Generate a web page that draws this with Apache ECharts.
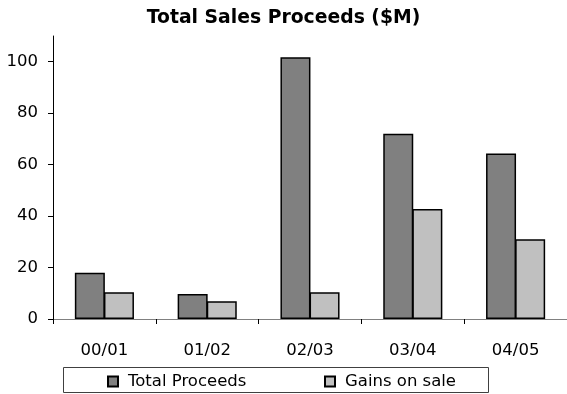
<!DOCTYPE html>
<html>
<head>
<meta charset="utf-8">
<style>
  html, body { margin: 0; padding: 0; background: #fff; }
  #chart { width: 567px; height: 394px; }
</style>
<script src="https://cdn.jsdelivr.net/npm/echarts@6/dist/echarts.min.js"></script>
</head>
<body>
<div id="chart"></div>
<script>
// Sales proceeds by financial year, $M
const years = ['00/01', '01/02', '02/03', '03/04', '04/05'];
const totalProceeds = [18, 9.7, 101.7, 72, 64.3];
const gainsOnSale = [10.4, 6.9, 10.4, 42.8, 31];
const yTicks = [0, 20, 40, 60, 80, 100];

const FONT = '"DejaVu Sans", Verdana, sans-serif';

const chart = echarts.init(document.getElementById('chart'), null, { renderer: 'canvas' });

const legendBase = {
  top: 368,
  icon: 'rect',
  itemWidth: 10,
  itemHeight: 10,
  textStyle: { fontFamily: FONT, fontSize: 16.5, color: '#000', padding: [0, 0, 0, 5] },
  selectedMode: false
};

chart.setOption({
  animation: false,
  backgroundColor: '#fff',
  title: {
    text: 'Total Sales Proceeds ($M)',
    left: 'center',
    top: 4,
    textStyle: { fontFamily: FONT, fontSize: 18.8, fontWeight: 'bold', color: '#000' }
  },
  legend: [
    Object.assign({ left: 102, data: ['Total Proceeds'] }, legendBase),
    Object.assign({ left: 319, data: ['Gains on sale'] }, legendBase)
  ],
  graphic: [{
    type: 'rect',
    shape: { x: 63.5, y: 367.5, width: 425, height: 25 },
    style: { fill: 'none', stroke: '#404040', lineWidth: 1 },
    silent: true,
    z: -1
  }],
  grid: { left: 53, top: 36, width: 515, height: 283 },
  xAxis: {
    type: 'category',
    data: years,
    axisLine: { lineStyle: { color: '#808080', width: 1 } },
    axisTick: { show: true, length: 5, lineStyle: { color: '#000' } },
    axisLabel: { fontFamily: FONT, fontSize: 16.5, color: '#000', margin: 23 }
  },
  yAxis: {
    type: 'value',
    min: 0,
    max: 110,
    splitLine: { show: false },
    axisLine: { show: true, lineStyle: { color: '#000', width: 1 } },
    axisTick: { show: true, length: 5, customValues: yTicks, lineStyle: { color: '#000' } },
    axisLabel: { fontFamily: FONT, fontSize: 16.5, color: '#000', margin: 15, customValues: yTicks }
  },
  series: [
    {
      name: 'Total Proceeds',
      type: 'bar',
      data: totalProceeds,
      barWidth: 30,
      barGap: '-3%',
      itemStyle: { color: '#808080', borderColor: '#000', borderWidth: 1.5 }
    },
    {
      name: 'Gains on sale',
      type: 'bar',
      data: gainsOnSale,
      barWidth: 30,
      itemStyle: { color: '#c0c0c0', borderColor: '#000', borderWidth: 1.5 }
    }
  ]
});
</script>
</body>
</html>
